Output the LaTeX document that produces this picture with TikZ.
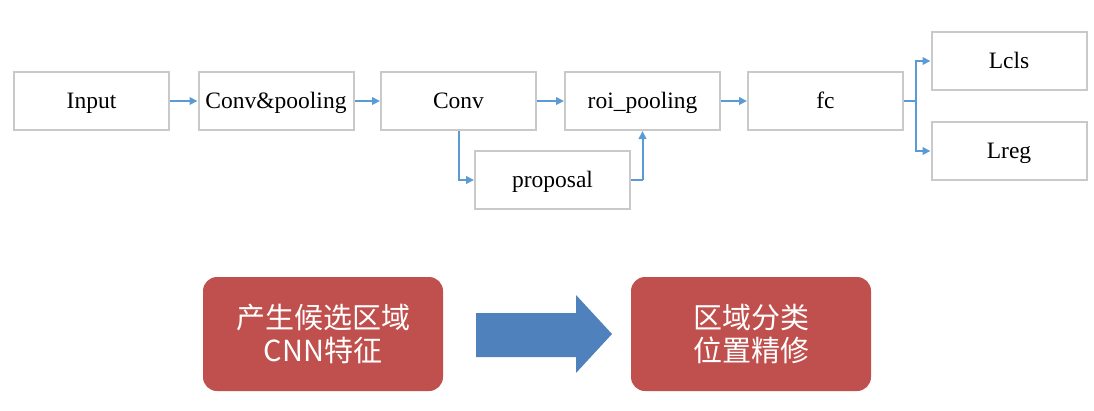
\documentclass[tikz,border=0pt]{standalone}
\usepackage{fontspec}
\setmainfont{Liberation Serif}
\newfontfamily\cjk{Noto Sans CJK SC}
\usetikzlibrary{arrows.meta}
\definecolor{boxgray}{HTML}{C9C9C9}
\definecolor{linkblue}{HTML}{5B9BD5}
\definecolor{redbox}{HTML}{C0504D}
\definecolor{bigblue}{HTML}{4F81BD}
\tikzset{
  stagebox/.style={draw=boxgray, line width=2pt, fill=white, minimum width=155pt, minimum height=58pt, inner sep=0pt, text height=15.5pt, text depth=0pt, font=\fontsize{23.5}{26}\selectfont},
  link/.style={draw=linkblue, line width=2pt, -{Triangle[length=8pt,width=7.5pt]}},
  redstage/.style={fill=redbox, rounded corners=14pt, minimum width=240pt, minimum height=114pt, inner sep=0pt, text=white, align=center, font=\cjk\fontsize{29}{33}\selectfont}
}
\begin{document}
\begin{tikzpicture}[x=1pt,y=-1pt]
\useasboundingbox (0,0) rectangle (1094,410);
\node[stagebox] (input) at (91.5,101) {Input};
\node[stagebox] (convpool) at (276,101) {Conv\&pooling};
\node[stagebox] (conv) at (458.5,101) {Conv};
\node[stagebox] (roi) at (642.5,101) {roi\_pooling};
\node[stagebox] (fc) at (825.5,101) {fc};
\node[stagebox] (lcls) at (1009,61) {Lcls};
\node[stagebox] (lreg) at (1009,151) {Lreg};
\node[stagebox] (prop) at (552.5,180) {proposal};
\draw[link] (input) -- (convpool);
\draw[link] (convpool) -- (conv);
\draw[link] (conv) -- (roi);
\draw[link] (roi) -- (fc);
\draw[link] (conv.south) |- (prop.west);
\draw[link] (prop.east) -- ++(12,0) -| (roi.south);
\coordinate (split) at (916,101);
\draw[draw=linkblue, line width=2pt] (fc.east) -- (split);
\draw[link] (split) |- (lcls.west);
\draw[link] (split) |- (lreg.west);
\node[redstage] (gen) at (323,334) {产生候选区域\\CNN特征};
\node[redstage] (cls) at (751,334) {区域分类\\位置精修};
\fill[bigblue] (476,313) -- (576,313) -- (576,295) -- (612,334) -- (576,373) -- (576,357) -- (476,357) -- cycle;
\end{tikzpicture}
\end{document}
